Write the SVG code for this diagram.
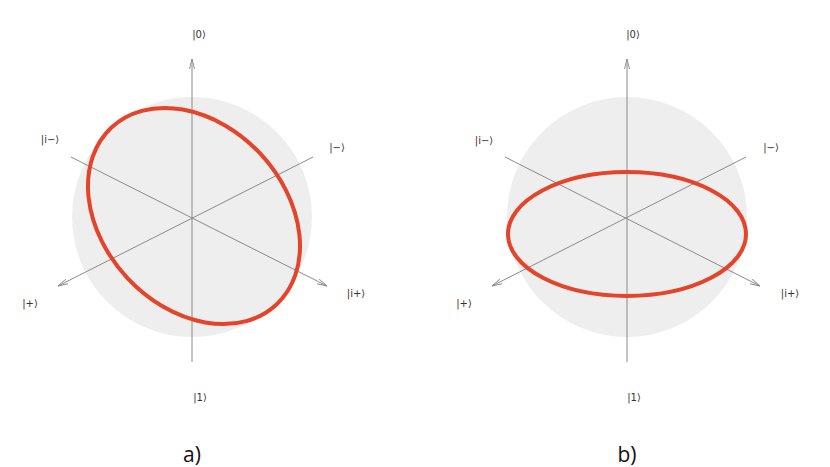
<svg xmlns="http://www.w3.org/2000/svg" width="830" height="467" viewBox="0 0 830 467">
<style>
.sphere{fill:#eeeeee;stroke:none}
.axis{stroke:#8a8a8a;stroke-width:1;fill:none}
.state{fill:none;stroke:#e5432a;stroke-width:4}
.lbl{font-family:"DejaVu Sans",sans-serif;font-size:10px;fill:#333;text-anchor:middle}
.cap{font-family:"Open Sans","Liberation Sans",sans-serif;font-size:21px;fill:#111;text-anchor:middle}
</style>
<defs>
<marker id="arr" viewBox="0 0 10 6" refX="10" refY="3" markerWidth="10" markerHeight="6" markerUnits="userSpaceOnUse" orient="auto">
<path d="M0,0.5 L10,3 L0,5.5" fill="none" stroke="#8a8a8a" stroke-width="0.9"/>
</marker>
</defs>
<g id="panel-a">
<circle class="sphere" cx="192" cy="217" r="120"/>
<g id="axes-a">
<line class="axis" x1="192" y1="362" x2="192" y2="59" marker-end="url(#arr)"/>
<line class="axis" x1="71" y1="157" x2="327" y2="286" marker-end="url(#arr)"/>
<line class="axis" x1="313" y1="157" x2="58" y2="286" marker-end="url(#arr)"/>
</g>
<ellipse id="state-a" class="state" cx="194" cy="216" rx="121" ry="91" transform="rotate(47 194 216)"/>
<g id="labels-a">
<text class="lbl" x="199" y="38">|0⟩</text>
<text class="lbl" x="200" y="401">|1⟩</text>
<text class="lbl" x="50" y="143">|i−⟩</text>
<text class="lbl" x="337" y="151">|−⟩</text>
<text class="lbl" x="30" y="307">|+⟩</text>
<text class="lbl" x="356" y="297">|i+⟩</text>
</g>
<text class="cap" x="192" y="462">a)</text>
</g>
<g id="panel-b">
<circle class="sphere" cx="627" cy="217" r="120"/>
<g id="axes-b">
<line class="axis" x1="627" y1="362" x2="627" y2="59" marker-end="url(#arr)"/>
<line class="axis" x1="505" y1="157" x2="760" y2="286" marker-end="url(#arr)"/>
<line class="axis" x1="746" y1="157" x2="492" y2="286" marker-end="url(#arr)"/>
</g>
<ellipse id="state-b" class="state" cx="627" cy="234" rx="119" ry="62"/>
<g id="labels-b">
<text class="lbl" x="633" y="38">|0⟩</text>
<text class="lbl" x="634" y="401">|1⟩</text>
<text class="lbl" x="484" y="144">|i−⟩</text>
<text class="lbl" x="771" y="151">|−⟩</text>
<text class="lbl" x="464" y="307">|+⟩</text>
<text class="lbl" x="790" y="297">|i+⟩</text>
</g>
<text class="cap" x="627" y="462">b)</text>
</g>
</svg>
